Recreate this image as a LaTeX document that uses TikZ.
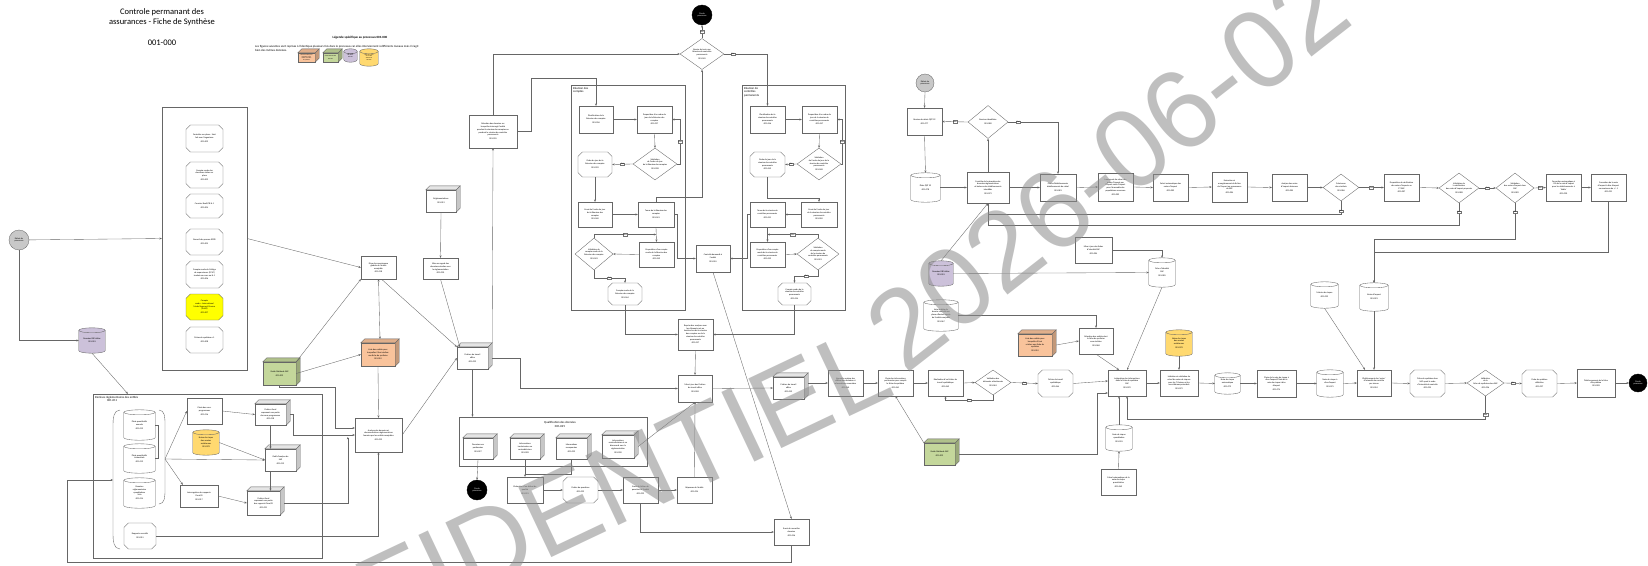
\documentclass[tikz,border=0pt]{standalone}
\usepackage{fontspec}
\setmainfont{Carlito}
\newfontfamily\wmfont{Liberation Sans}
\usetikzlibrary{shapes.geometric,shapes.misc,arrows.meta,calc,decorations.text}
\pgfdeclarelayer{background}
\pgfsetlayers{background,main}
\definecolor{lav}{HTML}{CCC1DA}
\definecolor{grn}{HTML}{C4D79B}
\definecolor{org}{HTML}{F9C39B}
\definecolor{gld}{HTML}{FFD970}
\definecolor{yel}{HTML}{FFFF00}
\definecolor{lgr}{HTML}{C8C8C8}
\definecolor{wmc}{HTML}{8C8C8C}
\newcommand\cylsh[2]{%
  \begin{pgfonlayer}{background}
  \path[draw=black!60,line width=0.35pt,fill=#2] let \p1=(#1.north west), \p2=(#1.south east), \n1={(\x2-\x1)/2} in
    (\x1,\y1-2.5pt) -- (\x1,\y2+2.5pt) arc[start angle=180,end angle=360,x radius=\n1,y radius=2.5pt]
    -- (\x2,\y1-2.5pt) arc[start angle=0,end angle=180,x radius=\n1,y radius=2.5pt] -- cycle;
  \path[draw=black!60,line width=0.35pt] let \p1=(#1.north west), \p2=(#1.south east), \n1={(\x2-\x1)/2} in
    (\x1,\y1-2.5pt) arc[start angle=180,end angle=360,x radius=\n1,y radius=2.5pt];
  \end{pgfonlayer}}
\newcommand\cubesh[2]{%
  \draw[draw=black!60,line width=0.35pt,fill=#2!90!black] (#1.north west) -- ++(4pt,4pt) -- ($(#1.north east)+(4pt,4pt)$) -- (#1.north east) -- cycle;
  \draw[draw=black!60,line width=0.35pt,fill=#2!78!black] (#1.north east) -- ++(4pt,4pt) -- ($(#1.south east)+(4pt,4pt)$) -- (#1.south east) -- cycle;}
\tikzset{
  txt/.style={font=\fontsize{2.2}{2.7}\selectfont, align=center},
  base/.style={txt, draw=black!60, line width=0.35pt, fill=white, inner sep=0.5pt},
  box/.style={base, rectangle},
  oct/.style={base, chamfered rectangle, chamfered rectangle xsep=2.2pt, chamfered rectangle ysep=2.2pt},
  cyl/.style={txt, rectangle, inner sep=0.5pt},
  cub/.style={base, rectangle},
  dia/.style={diamond, draw=black!60, line width=0.35pt, fill=white, inner sep=0pt},
  dt/.style={txt},
  startc/.style={circle, draw=black!60, line width=0.35pt, fill=lgr, minimum size=#1, inner sep=0pt, txt},
  endc/.style={circle, draw=black, fill=black, text=white, minimum size=#1, inner sep=0pt, txt},
  cont/.style={draw=black!60, line width=0.4pt, rectangle, inner sep=0pt},
  ctitle/.style={font=\fontsize{3}{3.6}\selectfont, align=left, anchor=north west, inner sep=0pt},
  arr/.style={draw=black!60, line width=0.35pt, -{Stealth[length=2.4pt,width=2pt]}},
  arr2/.style={draw=black!60, line width=0.35pt, {Stealth[length=2.4pt,width=2pt]}-{Stealth[length=2.4pt,width=2pt]}},
  ln/.style={draw=black!60, line width=0.35pt},
  lab/.style={draw=black!55, fill=white, line width=0.3pt, font=\fontsize{2}{2.4}\selectfont, inner sep=0.6pt},
  wh/.style 2 args={minimum width=#1, minimum height=#2},
  wmark/.style={decorate, decoration={text along path, text align=#1, text color=wmc}},
}
\begin{document}
\begin{tikzpicture}[x=1pt,y=-1pt]
\begin{pgfonlayer}{background}
\fill[white] (0,0) rectangle (1648,565);
\end{pgfonlayer}
\useasboundingbox (0,0) rectangle (1648,565);

% ---------- title & legend
\node[font=\fontsize{8.5}{10}\selectfont, align=center] (title) at (162,17) {Controle permanant des\\assurances - Fiche de Synthèse};
\node[font=\fontsize{8.5}{10}\selectfont] (code) at (162,43) {001-000};
\node[font=\bfseries\fontsize{3.2}{4}\selectfont] (legt) at (360,38) {Légende spécifique au processus 001-000};
\node[font=\fontsize{3}{3.8}\selectfont, align=left, anchor=north west, inner sep=0] (legx) at (255,45) {Les figures suivantes sont reprises à l'identique plusieurs fois dans le processus car elles interviennent à différents niveaux mais il s'agit\\bien des mêmes données.};
\node[cub, fill=org, wh={17}{9}, font=\fontsize{1.4}{1.7}\selectfont, inner sep=0.2pt] (lg1) at (306.5,57.5) {Liste des entités pour\\lesquelles il faut\\réaliser une fiche\\de synthèse};
\cubesh{lg1}{org}
\node[cub, fill=grn, wh={15}{9}, font=\fontsize{1.4}{1.7}\selectfont, inner sep=0.2pt] (lg2) at (330.5,57.5) {Guide Méthode SAP\\[0.8pt]001-009};
\cubesh{lg2}{grn}
\node[cyl, wh={13}{13}, font=\fontsize{1.4}{1.7}\selectfont] (lg3) at (350.5,55.5) {Données\\DB Métier\\001-001};
\cylsh{lg3}{lav}
\node[cyl, wh={18}{17}, font=\fontsize{1.4}{1.7}\selectfont] (lg4) at (369,57.5) {Notes de risque\\des années\\antérieures\\[0.8pt]001-078};
\cylsh{lg4}{gld}

% ---------- containers
\node[cont, wh={85}{263}] (cont1) at (204.5,238.5) {};
\node[cont, wh={229}{164}] (remises) at (207.5,476) {};
\node[ctitle] (remt) at (95,396) {Remises réglementaires des entités\\\hspace*{12pt}001-011};
\node[cont, wh={188}{49}] (qualif) at (553,441.5) {};
\node[txt, font=\fontsize{3}{3.6}\selectfont] (qualt) at (560,424.5) {Qualification des données\\001-025};
\node[cont, wh={114}{225}] (rcont) at (628,197.5) {};
\node[ctitle] (rct) at (573,87) {Réunion des\\comptes};
\node[cont, wh={103}{225}] (rcp) at (793.5,197.5) {};
\node[ctitle] (rcpt) at (744,87) {Réunion de\\contrôles\\permanents};

% ---------- left column
\node[startc=20] (debut1) at (19,240) {Début du\\processus};
\node[oct, wh={37}{27}] (o1) at (204.5,138.5) {Contrôles sur place : Suivi\\fait avec l'organisme\\[1.2pt]001-002};
\node[oct, wh={37}{26}] (o2) at (204.5,175) {Compte rendu des\\dernières visites sur\\place\\[1.2pt]001-003};
\node[oct, wh={37}{24}] (o3) at (204.5,206) {Courrier Reali/CR N-1\\[1.2pt]001-004};
\node[oct, wh={37}{26}] (o4) at (204.5,242) {Recueil des presses ECPR\\[1.2pt]001-005};
\node[oct, wh={37}{27}] (o5) at (204.5,274.5) {Compte rendu du Collège\\de superviseurs (CCSC)\\tendais en cours ou N-1\\[1.2pt]001-006};
\node[oct, wh={37}{26}, fill=yel] (o6) at (204.5,307) {Compte\\rendu - International\\Model Approval Process\\(IMAP)\\[1.2pt]001-007};
\node[oct, wh={37}{26}] (o7) at (204.5,340) {Fiches de synthèse n-1\\[1.2pt]001-008};
\node[cyl, wh={26}{25}] (db1) at (92,340.5) {Données DB Métier\\001-001};
\cylsh{db1}{lav}

% ---------- remises
\coordinate (brk) at (165,459);
\coordinate (brkL) at (113,480);
\draw[ln] (120,410) to[out=180,in=90] (113,425) -- (113,534) to[out=-90,in=180] (120,549);
\draw[ln] (159,410) to[out=0,in=90] (165,424) -- (165,490) to[out=-90,in=0] (159,504);
\node[cyl, wh={31}{30}] (annual) at (139.5,425) {États quantitatifs\\annuels\\[1.2pt]001-012};
\cylsh{annual}{white}
\node[cyl, wh={31}{29}] (trim) at (139.5,458.5) {États quantitatifs\\trimestriels\\[1.2pt]001-013};
\cylsh{trim}{white}
\node[cyl, wh={31}{30}] (solo) at (139.5,493) {Données\\réglementaires\\quantitatives\\Solo\\[1.2pt]001-014};
\cylsh{solo}{white}
\node[oct, wh={32}{26}] (rapports) at (140,536) {Rapports narratifs\\[1.2pt]001-015};
\node[box, wh={35}{26}] (choixsp) at (204.5,411) {Choix des sous-\\programmes\\[1.2pt]001-016};
\node[cyl, wh={26}{25}] (notesr1) at (206,442.5) {Notes de risque\\des années\\antérieures\\[1.2pt]001-078};
\cylsh{notesr1}{gld}
\node[box, wh={38}{22}] (interrog) at (199,496) {Interrogation des rapports\\Fiscal/R\\[1.2pt]001-017};
\node[cub, wh={31}{21}] (excel1) at (270.5,414.5) {Fichiers Excel\\reprenant une partie\\des sous-programmes\\[1pt]001-018};
\cubesh{excel1}{white}
\node[cub, wh={31}{22}] (outil) at (280.5,460) {Outil d'analyse de\\SAP\\[1.2pt]001-019};
\cubesh{outil}{white}
\node[cub, wh={33}{24}] (excel2) at (263.5,503) {Fichiers Excel\\reprenant une partie\\des rapports Fiscal/R\\[1.2pt]001-021};
\cubesh{excel2}{white}

% ---------- middle-left
\node[box, wh={35}{23}] (prise) at (378.5,267.5) {Prise de connaissance\\globale de l'entité\\assujettie\\001-018};
\node[cub, wh={30}{22}] (reglem) at (441,201) {Réglementations\\[1.2pt]001-019};
\cubesh{reglem}{white}
\node[box, wh={35}{21}] (miseregard) at (440.5,268.5) {Mise en regard des\\données extraites avec\\la réglementation\\[1.2pt]001-020};
\node[box, wh={48}{33}] (selection) at (493,131.5) {Sélection des données sur\\lesquelles interrogé l'entité\\pendant la réunion des comptes ou\\pendant la réunion de contrôles\\permanents\\[1.2pt]001-035};
\node[cub, wh={33}{23}, fill=grn] (green1) at (279.5,373.5) {Guide Méthode SAP\\[1.2pt]001-009};
\cubesh{green1}{grn}
\node[cub, wh={34}{23}, fill=org] (orange1) at (378,354.5) {Liste des entités pour\\lesquelles il faut réaliser\\une fiche de synthèse\\[1.2pt]001-010};
\cubesh{orange1}{org}
\node[cub, wh={31}{22}] (fichier1) at (472.5,358) {Fichiers de travail\\office\\[1.2pt]001-023};
\cubesh{fichier1}{white}
\node[box, wh={47}{34}] (analyse1) at (378.5,435) {Analyse des données et\\documentations réglementaires\\fournies par les entités assujetties\\[1.2pt]001-022};

% ---------- qualification
\node[cub, wh={30}{21}] (nonpert) at (478,448.5) {Données non\\pertinentes\\[1.2pt]001-027};
\cubesh{nonpert}{white}
\node[cub, wh={30}{21}] (incoh) at (525,448.5) {Informations\\incohérentes ou\\contradictoires\\[1.2pt]001-028};
\cubesh{incoh}{white}
\node[cub, wh={31}{21}] (manq) at (571.5,448.5) {Informations\\manquantes\\[1.2pt]001-029};
\cubesh{manq}{white}
\node[cub, wh={32}{23}] (contra) at (618,446.5) {Informations\\contradictoires et en\\désaccord avec la\\réglementation\\[1.2pt]001-030};
\cubesh{contra}{white}
\node[endc=20] (fin2) at (477,490) {Fin du\\processus};
\node[box, wh={36}{26}] (eval) at (525,490) {Évaluation d'un défaut de\\qualité\\[1.2pt]001-031};
\node[oct, wh={35}{26}] (fquest) at (580.5,490) {Fichier de questions\\[1.2pt]001-032};
\node[box, wh={35}{26}] (envoiFQ) at (640.5,490) {Envoi du fichier de\\questions à l'entité\\[1.2pt]001-033};
\node[box, wh={35}{26}] (reponses) at (694.5,490) {Réponses de l'entité\\[1.2pt]001-034};

% ---------- reunions
\node[endc=20] (finTop) at (702,15) {Fin du\\processus};
\node[dia, wh={44}{31}, label={[dt]center:{Besoin de tenir une\\Réunion de contrôles\\permanents\\[1.2pt]001-045}}] (besoin) at (702,54) {};
\node[box, wh={34}{27}] (planifRC) at (596,119.5) {Planification de la\\Réunion des comptes\\[1.2pt]001-036};
\node[box, wh={35}{27}] (propRC) at (654.5,119.5) {Proposition d'un ordre du\\jour de la Réunion des\\comptes\\[1.2pt]001-037};
\node[dia, wh={44}{32}, label={[dt]center:{Validation\\de l'ordre du jour\\de la Réunion des comptes\\[1.2pt]001-038}}] (valRC) at (655,164) {};
\node[oct, wh={34}{25}] (odjRC) at (595,164.5) {Ordre du jour de la\\Réunion des comptes\\[1.2pt]001-039};
\node[box, wh={34}{25}] (envoiRC) at (595,214.5) {Envoi de l'ordre du jour\\de la Réunion des\\comptes\\[1.2pt]001-040};
\node[box, wh={36}{25}] (tenueRC) at (656,214.5) {Tenue de la Réunion des\\comptes\\[1.2pt]001-041};
\node[box, wh={35}{25}] (propCRRC) at (656.5,254.5) {Proposition d'un compte\\rendu de la Réunion des\\comptes\\[1.2pt]001-042};
\node[dia, wh={38}{32}, label={[dt]center:{Validation du\\compte rendu de la\\Réunion des comptes\\[1.2pt]001-043}}] (valCRRC) at (594,254) {};
\node[oct, wh={34}{22}] (crRC) at (625,294) {Compte rendu de la\\Réunion des comptes\\[1.2pt]001-044};

\node[box, wh={35}{27}] (planifCP) at (767.5,119.5) {Planification de la\\réunion de contrôles\\permanents\\[1.2pt]001-046};
\node[box, wh={35}{27}] (propCP) at (819.5,119.5) {Proposition d'un ordre du\\jour de la réunion de\\contrôles permanents\\[1.2pt]001-047};
\node[dia, wh={44}{32}, label={[dt]center:{Validation\\de l'ordre du jour de la\\réunion de contrôles\\permanents\\[1.2pt]001-048}}] (valCP) at (819,164) {};
\node[oct, wh={35}{25}] (odjCP) at (767.5,164.5) {Ordre du jour de la\\réunion de contrôles\\permanents\\[1.2pt]001-049};
\node[box, wh={36}{25}] (envoiCP) at (819,214.5) {Envoi de l'ordre du jour\\de la réunion de contrôles\\permanents\\[1.2pt]001-050};
\node[box, wh={35}{25}] (tenueCP) at (767.5,214.5) {Tenue de la réunion de\\contrôles permanents\\[1.2pt]001-051};
\node[box, wh={35}{25}] (propCRCP) at (767.5,254.5) {Proposition d'un compte\\rendu de la réunion de\\contrôles permanents\\[1.2pt]001-052};
\node[dia, wh={42}{32}, label={[dt]center:{Validation\\du compte rendu\\de la réunion de\\contrôles permanents\\[1.2pt]001-053}}] (valCRCP) at (818,254) {};
\node[oct, wh={33}{22}] (crCP) at (794.5,294) {Compte rendu de la\\réunion de contrôles\\permanents\\[1.2pt]001-054};

\node[box, wh={34}{27}] (controle) at (713,258.5) {Contrôle demandé à\\l'entité\\[1.2pt]001-055};
\node[box, wh={35}{31}] (reprise) at (695.5,334.5) {Reprise des analyses avec\\les éléments mis en\\lumière lors de la réunion\\des comptes ou de la\\réunion de contrôles\\permanents\\[1.2pt]001-057};
\node[box, wh={34}{27}] (miseajour) at (695,388.5) {Mise à jour des Fichiers\\de travail office\\[1.2pt]001-058};
\node[cub, wh={31}{22}] (fichier2) at (788.5,388) {Fichiers de travail\\office\\[1.2pt]001-059};
\cubesh{fichier2}{white}
\node[box, wh={35}{26}] (envoiND) at (791.5,532) {Envoi de nouvelles\\données\\[1.2pt]001-056};

% ---------- right upper
\node[startc=18] (debut2) at (925,83) {Début du\\processus};
\node[box, wh={35}{27}] (remiseQRT) at (924.5,121.5) {Remise des états QRT S2\\[1.2pt]001-077};
\node[cyl, wh={29}{29}] (etatsQRT) at (925.5,187.5) {États QRT S2\\[1.2pt]001-078};
\cylsh{etatsQRT}{white}
\node[box, wh={42}{31}] (controleRec) at (988,187.5) {Contrôle de la réception des\\données réglementaires\\et balance des établissements\\identifiés\\[1.2pt]001-079};
\node[dia, wh={40}{33}, label={[dt]center:{Remises identifiées\\[1.2pt]001-080}}] (remisesId) at (988,122) {};
\node[box, wh={36}{27}] (choixEt) at (1058,187.5) {Choix d'établissements\\établissements du calcul\\[1.2pt]001-081};
\node[box, wh={35}{28}] (lancement) at (1115.5,187) {Lancement du calcul des\\notes d'impact par\\l'Expert note d'impact\\pour l'ensemble des\\populations assurance\\[1.2pt]001-082};
\node[box, wh={35}{27}] (calcAuto) at (1170.5,187.5) {Calcul automatique des\\notes d'impact\\[1.2pt]001-083};
\node[box, wh={35}{30}, line width=0.6pt] (extraction) at (1229.5,187) {Extraction et\\enregistrement du fichier\\de l'impact en provenance\\de SAP\\[1.2pt]001-084};
\node[box, wh={35}{27}] (analyseNI) at (1289.5,187.5) {Analyse des notes\\d'impact obtenues\\[1.2pt]001-085};
\node[dia, wh={36}{27}, label={[dt]center:{Cohérence\\des résultats\\[1.2pt]001-086}}] (coherence) at (1341,187.5) {};
\node[box, wh={35}{27}] (propVerif) at (1401.5,187.5) {Proposition de vérification\\des notes d'impacts au\\CT SAP\\[1.2pt]001-087};
\node[dia, wh={40}{30}, label={[dt]center:{Validation de\\la vérification\\des notes d'impact proposée\\[1.2pt]001-088}}] (val1) at (1459,188) {};
\node[dia, wh={38}{30}, label={[dt]center:{Validation\\des notes d'impact dans\\SAP\\[1.2pt]001-089}}] (val2) at (1515,188) {};
\node[box, wh={35}{27}] (corrAuto) at (1563.5,187.5) {Correction automatique à\\-X\% de la note d'impact\\pour les établissements à\\`faible'\\[1.2pt]001-090};
\node[box, wh={35}{27}] (corrExpert) at (1608.5,187.5) {Correction de la note\\d'impact à dire d'expert\\au maximum de +/- 1\\[1.2pt]001-091};

% ---------- right middle
\node[box, wh={37}{26}] (majFiches) at (1093.5,250) {Mise à jour des fiches\\d'identité SAP\\[1.2pt]001-084};
\node[cyl, wh={26}{29}] (ficheId) at (1162,272.5) {Fiche d'identité\\SAP\\[1.2pt]001-085};
\cylsh{ficheId}{white}
\node[cyl, wh={24}{25}] (cylDB2) at (941,273.5) {Données DB Métier\\001-001};
\cylsh{cylDB2}{lav}
\node[cyl, wh={34}{31}] (listeDernier) at (941,315.5) {Liste arrêtée du\\dernier contrôle sur\\place effectué auprès\\de l'entité assujettie\\[1.2pt]001-067};
\cylsh{listeDernier}{white}
\node[cub, wh={34}{22}, fill=org] (orange2) at (1035,345) {Liste des entités pour\\lesquelles il faut\\réaliser une fiche de\\synthèse\\[1pt]001-010};
\cubesh{orange2}{org}
\node[box, wh={34}{26}] (selEnt) at (1096,341) {Sélection des entités dont\\la fiche de synthèse\\sera réalisée\\[1.2pt]001-068};
\node[cyl, wh={27}{26}] (matrice) at (1324.5,295) {Matrice de risque\\[1.2pt]001-092};
\cylsh{matrice}{white}
\node[cyl, wh={28}{28}] (notesImpact) at (1374,297) {Notes d'impact\\[1.2pt]001-093};
\cylsh{notesImpact}{white}

% ---------- lower row
\node[box, wh={35}{26}] (nouvAnalyse) at (845.5,383) {Nouvelle analyse des\\différentes données et\\informations remontées\\[1.2pt]001-060};
\node[box, wh={35}{26}] (choixInfo) at (895.5,383) {Choix des informations\\pertinentes pour remplir\\la fiche de synthèse\\[1.2pt]001-061};
\node[box, wh={35}{26}] (realisation) at (945.5,383) {Réalisation d'un fichier de\\travail synthétique\\[1.2pt]001-062};
\node[dia, wh={36}{25}, label={[dt]center:{Validation des\\éléments sélectionnés\\[1.2pt]001-063}}] (valSel) at (993,382.5) {};
\node[oct, wh={35}{27}] (fts) at (1055.5,383.5) {Fichier de travail\\synthétique\\[1.2pt]001-064};
\node[cub, wh={31}{22}, fill=grn] (green2) at (939.5,454) {Guide Méthode SAP\\[1.2pt]001-009};
\cubesh{green2}{grn}
\node[box, wh={38}{26}] (integration) at (1127,383) {Intégration des informations\\dans la fiche de synthèse\\SAP\\[1.2pt]001-070};
\node[cyl, wh={26}{26}] (noteQuant) at (1119,438) {Note de risque\\quantitative\\[1.2pt]001-076};
\cylsh{noteQuant}{white}
\node[box, wh={35}{26}] (calcQuant) at (1118.5,482) {Calcul automatique de la\\note de risque\\quantitative\\[1.2pt]001-069};
\node[box, wh={38}{26}] (initiation) at (1179,383) {Initiation et validation du\\calcul de notes de risques\\pour les 7 thèmes et les\\sous-thèmes potentiels\\[1.2pt]001-072};
\node[cyl, wh={26}{26}] (notesAnt2) at (1179,343) {Notes de risque\\des années\\antérieures\\[1.2pt]001-078};
\cylsh{notesAnt2}{gld}
\node[cyl, wh={25}{21}] (noteAuto) at (1227.5,383.5) {Note de risque\\automatique\\[1.2pt]001-073};
\cylsh{noteAuto}{white}
\node[box, wh={39}{27}] (choixNote) at (1276.5,383.5) {Choix de la note de risque à\\dire d'expert/Choix de la\\note de risque à dire\\d'expert\\[1.2pt]001-074};
\node[cyl, wh={26}{27}] (noteExpert) at (1330,383.5) {Note de risque à\\dire d'expert\\[1.2pt]001-075};
\cylsh{noteExpert}{white}
\node[box, wh={34}{26}] (etab) at (1374,383) {Établissement des `notes'\\d'intensité de contrôle\\par niveau\\[1.2pt]001-094};
\node[oct, wh={35}{27}] (ficheSynth) at (1427.5,383.5) {Fiche de synthèse dans\\SAP ayant le code\\d'intensité de contrôle\\[1.2pt]001-095};
\node[dia, wh={37}{26}, label={[dt]center:{Validation\\de la\\fiche de synthèse dans SAP\\[1.2pt]001-096}}] (valFS) at (1485.5,383) {};
\node[oct, wh={35}{27}] (fsDef) at (1539.5,383.5) {Fiche de synthèse\\définitive\\[1.2pt]001-097};
\node[box, wh={38}{28}] (telech) at (1596,383) {Téléchargement de la fiche\\de synthèse\\001-098};
\node[endc=18] (fin3) at (1638,383) {Fin du\\processus};

% ================= connectors
% left
\draw[arr] (debut1) -- (cont1.west);
\draw[arr] (debut1.south) |- (db1.west);
\draw[arr] (db1.south) -- ($(remises.north west)+(35,0)$);
\draw[arr] (cont1.east) -- (prise.west);
\draw[arr] (green1.north east) -- (prise.south west);
\draw[arr] (green1.east) -- (orange1.west);
\draw[arr2] (prise.south) -- ($(orange1.north)+(2,-4)$);
\draw[arr] ($(prise.south)+(3,0)$) -- (fichier1.north west);
\draw[arr] (miseregard.south) -- ($(fichier1.north west)+(3,0)$);
\draw[arr] (reglem.south) -- (miseregard.north);
\draw[arr] (orange1.south) -- (analyse1.north);
\draw[arr] (analyse1.east) -- (fichier1.west);
\draw[arr] ($(fichier1.north east)+(4,-4)$) -- (selection.south);
\draw[arr] (fichier1.south) -- (fichier1.south |- qualif.north);
\draw[arr] ($(fichier1.east)+(4,0)$) -- ++(28,0) |- (miseajour.west);
\draw[arr] (selection.north) |- (besoin.west);
\draw[arr] (selection.east) -- ++(14,0) |- ($(planifRC.north)+(0,-28)$) -- (planifRC.north);
% remises
\draw[arr] (brk) -- (choixsp.west);
\draw[arr] (brk) -- (outil.west);
\draw[arr] (brk) -- ($(interrog.north west)+(3,0)$);
\draw[ln] (annual.east) -- ++(3,0) |- (trim.east);
\draw[arr] (choixsp.east) -- (excel1.west);
\draw[arr] (notesr1.east) -- (outil.west);
\draw[arr] (excel1.south) -- (excel1.south |- outil.north);
\draw[arr] (outil.south -| excel1.south) -- (excel2.north -| excel1.south);
\draw[arr] (interrog.east) -- (excel2.west);
\draw[arr] ($(excel1.east)+(4,0)$) -- ++(3,0) |- (analyse1.west);
\draw[arr] ($(excel2.east)+(4,0)$) -| ($(analyse1.west)+(-7,2)$);
\draw[arr] (green1.south) -- ++(0,2) -| ($(analyse1.west)+(-20,-7)$) -- ($(analyse1.west)+(0,-7)$);
\draw[arr] (rapports.east) -| (analyse1.south);
% qualification
\draw[arr] (nonpert.south) -- (fin2.north);
\draw[arr] (incoh.south) -- (eval.north);
\draw[ln] (manq.south) |- ($(eval.north)+(0,-3)$);
\draw[arr] ($(contra.east)+(4,0)$) -- (miseajour.south);
\draw[arr] (eval.east) -- (fquest.west);
\draw[arr] (fquest.east) -- (envoiFQ.west);
\draw[arr] (envoiFQ.east) -- (reponses.west);
\draw[arr] (reponses.north) -- (miseajour.south);
\draw[arr] (envoiFQ.south) |- (envoiND.west);
% reunions
\draw[arr] (besoin.north) -- node[lab]{Non} (finTop.south);
\draw[arr] (besoin.east) -| node[lab,pos=0.1]{Oui} (planifCP.north);
\draw[arr] (planifRC.east) -- (propRC.west);
\draw[arr] (propRC.south) -- (valRC.north);
\draw[arr] (valRC.east) -- ++(3,0) |- node[lab,pos=0.25]{Non} (propRC.east);
\draw[arr] (valRC.west) -- node[lab]{Oui} (odjRC.east);
\draw[arr] (odjRC.south) -- (envoiRC.north);
\draw[arr] (envoiRC.east) -- (tenueRC.west);
\draw[arr] (tenueRC.north) |- ($(besoin.south)+(0,127)$) -- (besoin.south);
\draw[arr] (tenueRC.east) -- ++(3,0) |- (controle.west);
\draw[arr] (tenueRC.south) -- (propCRRC.north);
\draw[arr] (propCRRC.west) -- (valCRRC.east);
\draw[arr] (valCRRC.north) |- node[lab,pos=0.75]{Non} ($(tenueRC.south)!0.5!(propCRRC.north)$);
\draw[arr] (valCRRC.south) -- ++(0,8) -| node[lab,pos=0.25]{Oui} (crRC.north);
\draw[arr] (planifCP.east) -- (propCP.west);
\draw[arr] (propCP.south) -- (valCP.north);
\draw[arr] (valCP.east) -- ++(1,0) |- node[lab,pos=0.25]{Non} (propCP.east);
\draw[arr] (valCP.west) -- node[lab]{Oui} (odjCP.east);
\draw[arr] (odjCP.south) |- ($(envoiCP.north)+(0,-4)$) -- (envoiCP.north);
\draw[arr] (envoiCP.west) -- (tenueCP.east);
\draw[arr] (tenueCP.west) -- ++(-3,0) |- (controle.east);
\draw[arr] (tenueCP.south) -- (propCRCP.north);
\draw[arr] (propCRCP.east) -- (valCRCP.west);
\draw[arr] (valCRCP.north) |- node[lab,pos=0.75]{Non} ($(tenueCP.south)!0.5!(propCRCP.north)$);
\draw[arr] (valCRCP.south) -- ++(0,6) -| node[lab,pos=0.25]{Oui} (crCP.north);
\draw[arr] (controle.south) -- (envoiND.north);
\draw[arr] (crRC.south) |- (reprise.west);
\draw[arr] (crCP.south) |- (reprise.east);
\draw[arr] (reprise.south) -- (miseajour.north);
\draw[arr] (miseajour.east) -- (fichier2.west);
\draw[arr] (envoiND.south) -- ++(0,17) -| ($(brkL)+(-46,0)$) -- (brkL);
\draw[arr] ($(fichier2.east |- nouvAnalyse.west)+(4,0)$) -- (nouvAnalyse.west);
% right upper
\draw[arr] (debut2.south) -- (remiseQRT.north);
\draw[arr] (remiseQRT.south) -- (etatsQRT.north);
\draw[arr] (etatsQRT.east) -- (controleRec.west);
\draw[arr] (controleRec.north) -- (remisesId.south);
\draw[arr] (remisesId.west) -- node[lab]{Non} (remiseQRT.east);
\draw[arr] (remisesId.east) -| node[lab,pos=0.1]{Oui} (choixEt.north);
\draw[arr] (controleRec.east) -- (choixEt.west);
\draw[arr] (choixEt.east) -- (lancement.west);
\draw[arr] (lancement.east) -- (calcAuto.west);
\draw[arr] (calcAuto.east) -- (extraction.west);
\draw[arr] (extraction.east) -- (analyseNI.west);
\draw[arr] (analyseNI.east) -- (coherence.west);
\draw[arr] (coherence.east) -- node[lab]{Oui} (propVerif.west);
\draw[arr] (coherence.south) -- node[lab,pos=0.75]{Non} ++(0,13) -| (controleRec.south);
\draw[arr] (val1.south) -- node[lab,pos=0.4]{Non} ++(0,22) -| (controleRec.south);
\draw[arr] (propVerif.east) -- (val1.west);
\draw[arr] (val1.east) -- node[lab]{Oui} (val2.west);
\draw[arr] (val2.east) -- node[lab]{Non} (corrAuto.west);
\draw[arr] (corrAuto.east) -- (corrExpert.west);
\draw[arr] (val2.south) -- node[lab,pos=0.25]{Oui} ++(0,36) -| (notesImpact.north);
\draw[arr] (corrExpert.south) -- ++(0,51) -| (notesImpact.north);
% right middle
\draw[arr] (cylDB2.north) -- (controleRec.south);
\draw[arr] (cylDB2.east) -- (ficheId.west);
\draw[arr] (majFiches.east) -| (ficheId.north);
\draw[arr] (ficheId.south) -- (integration.north);
\draw[arr] (matrice.south) -- ($(etab.north)+(-9,0)$);
\draw[arr] (notesImpact.south) -- (etab.north);
\draw[arr] (listeDernier.east) -| (selEnt.north);
\draw[arr] ($(orange2.east)+(4,0)$) -- (selEnt.west);
\draw[arr] (selEnt.south) -- ($(integration.north)+(-8,0)$);
% lower row
\draw[arr] (nouvAnalyse.east) -- (choixInfo.west);
\draw[arr] (choixInfo.east) -- (realisation.west);
\draw[arr] (realisation.east) -- (valSel.west);
\draw[arr] (valSel.south) -- ++(0,5) -| node[lab,pos=0.25]{Non} (realisation.south);
\draw[arr] (valSel.east) -- node[lab]{Oui} (fts.west);
\draw[arr] (fts.east) -- ($(integration.west)+(0,-2)$);
\draw[arr] (green2.north west) -- (choixInfo.south);
\draw[arr] ($(green2.east)+(4,0)$) -| ($(integration.west)+(-11,10)$) -- ($(integration.west)+(0,10)$);
\draw[arr] (noteQuant.north) -- (noteQuant.north |- integration.south);
\draw[arr] (calcQuant.north) -- (noteQuant.south);
\draw[arr] (integration.east) -- (initiation.west);
\draw[arr] (notesAnt2.south) -- (initiation.north);
\draw[arr] (initiation.east) -- (noteAuto.west);
\draw[arr] (noteAuto.east) -- (choixNote.west);
\draw[arr] (choixNote.east) -- (noteExpert.west);
\draw[arr] (noteExpert.east) -- (etab.west);
\draw[arr] (etab.east) -- (ficheSynth.west);
\draw[arr] (ficheSynth.east) -- (valFS.west);
\draw[arr] (valFS.east) -- node[lab]{Oui} (fsDef.west);
\draw[arr] (fsDef.east) -- (telech.west);
\draw[arr] (telech.east) -- (fin3.west);
\draw[arr] (valFS.south) -- node[lab,pos=0.8]{Non} ++(0,23) -| (integration.south);

% ---------- watermark
\coordinate (wmA0) at (40,800);
\coordinate (wmA1) at (898,394);
\coordinate (wmB0) at (905,375);
\coordinate (wmB1) at (1457,-56);
\begin{scope}[fill opacity=0.55]
\path[wmark=right, decoration={text={|\wmfont\fontsize{112}{112}\selectfont|CONFIDENTIEL}}] (wmA0) -- (wmA1);
\path[wmark=left, decoration={text={|\wmfont\fontsize{112}{112}\selectfont|2026-06-02}}] (wmB0) -- (wmB1);
\end{scope}
\end{tikzpicture}
\end{document}
